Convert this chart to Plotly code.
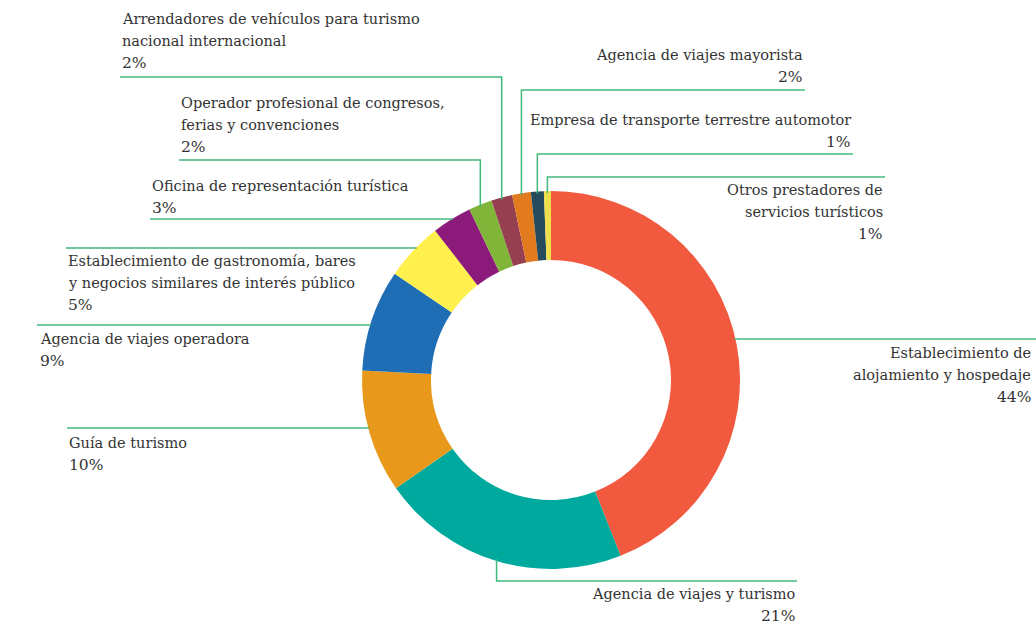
import math
import plotly.graph_objects as go

# ---- data (clockwise from 12 o'clock) ----
categories = [
    "Establecimiento de alojamiento y hospedaje",
    "Agencia de viajes y turismo",
    "Guía de turismo",
    "Agencia de viajes operadora",
    "Establecimiento de gastronomía, bares y negocios similares de interés público",
    "Oficina de representación turística",
    "Operador profesional de congresos, ferias y convenciones",
    "Arrendadores de vehículos para turismo nacional internacional",
    "Agencia de viajes mayorista",
    "Empresa de transporte terrestre automotor",
    "Otros prestadores de servicios turísticos",
]
values = [44.0, 21.3, 10.5, 8.7, 5.0, 3.4, 2.0, 1.8, 1.6, 1.1, 0.6]
pct_labels = ["44%", "21%", "10%", "9%", "5%", "3%", "2%", "2%", "2%", "1%", "1%"]
label_lines = [
    ["Establecimiento de", "alojamiento y hospedaje"],
    ["Agencia de viajes y turismo"],
    ["Guía de turismo"],
    ["Agencia de viajes operadora"],
    ["Establecimiento de gastronomía, bares", "y negocios similares de interés público"],
    ["Oficina de representación turística"],
    ["Operador profesional de congresos,", "ferias y convenciones"],
    ["Arrendadores de vehículos para turismo", "nacional internacional"],
    ["Agencia de viajes mayorista"],
    ["Empresa de transporte terrestre automotor"],
    ["Otros prestadores de", "servicios turísticos"],
]
colors = ["#F15A3F", "#00A99D", "#E8991C", "#1F6DB5", "#FFF04D", "#8C1A7A",
          "#80B53A", "#953F50", "#E27A1E", "#264B5D", "#EEDF4C"]

W, H = 1036, 642
CX, CY, R = 551, 380, 189
HOLE = 0.635
LINE_COLOR = "#40B97C"
TEXT_COLOR = "#333333"
FONT = "DejaVu Serif"
FS = 14.5
LH = 22

# label layout: kind, line y (px), line end x, text x, text anchor, first text line y (px)
layout_spec = [
    dict(kind="h", y=339, tx=1036, txa=1033, anchor="right", ty=353),
    dict(kind="v", y=581, tx=797, txa=797, anchor="right", ty=594),
    dict(kind="h", y=428, tx=67, txa=67, anchor="left", ty=443),
    dict(kind="h", y=325, tx=37, txa=38, anchor="left", ty=339),
    dict(kind="h", y=248, tx=66, txa=66, anchor="left", ty=261),
    dict(kind="h", y=219, tx=150, txa=150, anchor="left", ty=186),
    dict(kind="v", y=160, tx=179, txa=179, anchor="left", ty=103),
    dict(kind="v", y=77, tx=120, txa=120, anchor="left", ty=19),
    dict(kind="v", y=90, tx=805, txa=805, anchor="right", ty=55),
    dict(kind="v", y=154, tx=853, txa=853, anchor="right", ty=120),
    dict(kind="v", y=177, tx=885, txa=885, anchor="right", ty=190),
]

def px(x):
    return x / W

def py(y):
    return 1 - y / H

fig = go.Figure(go.Pie(
    labels=categories,
    values=values,
    sort=False,
    direction="clockwise",
    rotation=0,
    hole=HOLE,
    marker=dict(colors=colors, line=dict(width=0)),
    textinfo="none",
    hoverinfo="label+percent",
    showlegend=False,
    domain=dict(x=[px(CX - R), px(CX + R)], y=[py(CY + R), py(CY - R)]),
))

total = sum(values)
shapes = []
annotations = []
cum = 0.0
for i, v in enumerate(values):
    mid = (cum + v / 2) / total * 2 * math.pi
    cum += v
    ax = CX + R * math.sin(mid)
    ay = CY - R * math.cos(mid)
    spec = layout_spec[i]
    if spec["kind"] == "h":
        ly = spec["y"]
        dy = ly - CY
        dx = math.sqrt(max(R * R - dy * dy, 0)) - 1
        ex = CX + dx if spec["anchor"] == "right" else CX - dx
        pts = [(ex, ly), (spec["tx"], ly)]
    else:
        ly = spec["y"]
        sy = ay + (2 if ly < ay else -2)
        pts = [(ax, sy), (ax, ly), (spec["tx"], ly)]
    path = "M " + " L ".join(f"{px(x):.5f},{py(y):.5f}" for x, y in pts)
    shapes.append(dict(type="path", path=path, xref="paper", yref="paper",
                       line=dict(color=LINE_COLOR, width=1.5)))
    lines = label_lines[i] + [pct_labels[i]]
    for j, t in enumerate(lines):
        annotations.append(dict(
            text=t, x=px(spec["txa"]), y=py(spec["ty"] + j * LH),
            xref="paper", yref="paper", showarrow=False,
            xanchor=spec["anchor"], yanchor="middle",
            font=dict(family=FONT, size=FS + (1 if j == len(lines) - 1 else 0), color=TEXT_COLOR),
        ))

fig.update_layout(
    width=W, height=H,
    margin=dict(l=0, r=0, t=0, b=0),
    paper_bgcolor="white", plot_bgcolor="white",
    shapes=shapes, annotations=annotations,
)

fig.write_html(
    "out.html",
    config={"displayModeBar": False},
    post_script="document.body.style.margin='0';document.body.style.overflow='hidden';",
)
